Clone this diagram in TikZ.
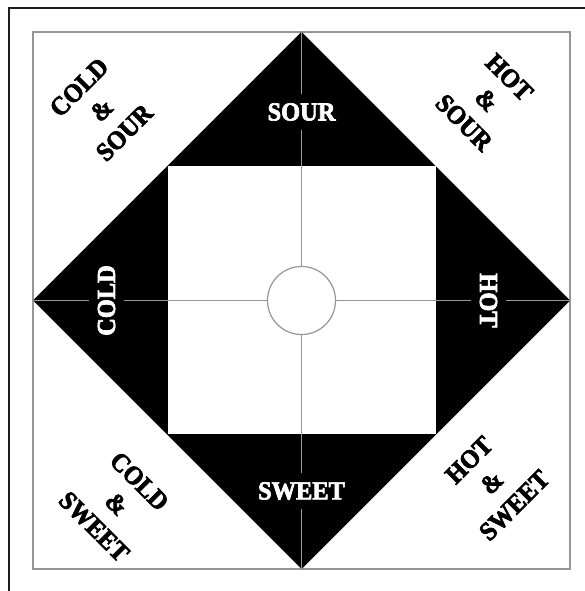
\documentclass[tikz,border=0pt]{standalone}
\usepackage{fontspec}
\setmainfont{Liberation Serif}
\newfontfamily\stencilfont{Liberation Serif Bold}[FakeStretch=0.94,FakeBold=2.6]
\usetikzlibrary{positioning}
\definecolor{fgray}{RGB}{150,150,150}
\definecolor{fframe}{RGB}{30,30,30}
\tikzset{
  guide/.style={fgray,line width=1.2pt},
  taste/.style={fill=black,text=white,inner sep=9pt,
                font=\fontsize{26}{28}\stencilfont},
  combo/.style={align=center,inner sep=0pt,
                font=\fontsize{26}{32}\stencilfont},
  hubdisc/.style={circle,draw=fgray,line width=1.2pt,fill=white,
                  minimum size=68pt,inner sep=0pt},
}

\begin{document}
\begin{tikzpicture}[x=1pt,y=1pt]
  \useasboundingbox (0,0) rectangle (585,591);
  % frame edges
  \draw[fframe,line width=2.6pt] (9,0) -- (9,583) -- (585,583);
  % paper sheet
  \draw[fgray,line width=1.4pt,fill=white] (33,22) rectangle (570,559);
  % diamond corners
  \coordinate (top) at (301.5,559);
  \coordinate (rgt) at (570,290.5);
  \coordinate (bot) at (301.5,22);
  \coordinate (lft) at (33,290.5);
  \fill (top) -- (rgt) -- (bot) -- (lft) -- cycle;
  \fill[white] (167.5,156.5) rectangle (435.5,424.5);
  % centre disc and folds
  \node[hubdisc] (hub) at (301.5,290.5) {};
  \draw[guide] (top) -- (hub);
  \draw[guide] (bot) -- (hub);
  \draw[guide] (lft) -- (hub);
  \draw[guide] (rgt) -- (hub);
  % flap labels
  \node[taste] (sour)  at (301.5,479) {SOUR};
  \node[taste] (sweet) at (301.5,100) {SWEET};
  \node[taste,rotate=90]  (cold) at (106.5,290.5) {COLD};
  \node[taste,rotate=-90] (hot)  at (488.5,290.5) {HOT};
  % corner labels
  \node[combo,rotate=45]  (coldsour)  at (101.7,481)   {COLD\\\&\\SOUR};
  \node[combo,rotate=-45] (hotsour)   at (486.7,491)   {HOT\\\&\\SOUR};
  \node[combo,rotate=-45] (coldsweet) at (116.7,87)    {COLD\\\&\\SWEET};
  \node[combo,rotate=45]  (hotsweet)  at (491.7,108.3) {HOT\\\&\\SWEET};
\end{tikzpicture}
\end{document}
